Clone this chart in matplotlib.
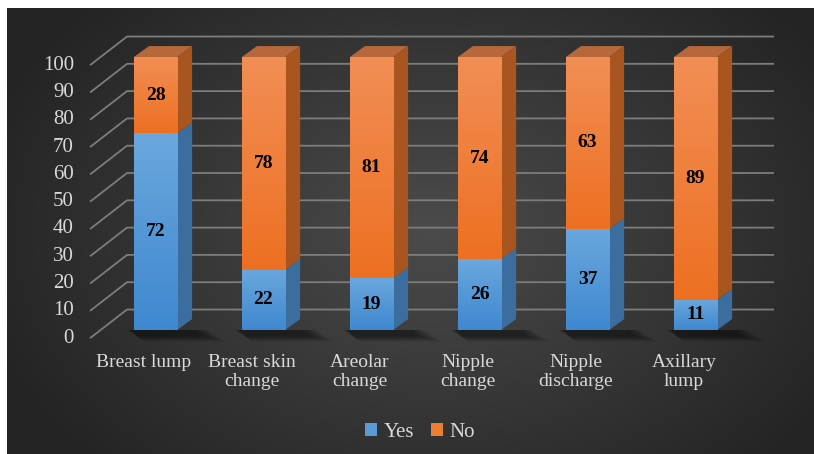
# -*- coding: utf-8 -*-
import numpy as np
import matplotlib
matplotlib.use("Agg")
from matplotlib import pyplot as plt
from matplotlib.patches import Polygon, Patch

categories = ["Breast lump", "Breast skin\nchange", "Areolar\nchange",
              "Nipple\nchange", "Nipple\ndischarge", "Axillary\nlump"]
yes_vals = [72, 22, 19, 26, 37, 11]
no_vals = [28, 78, 81, 74, 63, 89]
y_ticks = [0, 10, 20, 30, 40, 50, 60, 70, 80, 90, 100]

plt.rcParams['font.family'] = ['Liberation Serif', 'DejaVu Serif']

W, H = 814, 454
fig = plt.figure(figsize=(W / 100, H / 100), dpi=100)
fig.patch.set_facecolor("white")

# background panel with radial gradient
bg = fig.add_axes([0, 0, 1, 1])
bg.set_xlim(0, W)
bg.set_ylim(H, 0)
bg.axis("off")
gx, gy = np.meshgrid(np.arange(7, W), np.arange(8, H))
r = np.sqrt(((gx - 430) / 480.0) ** 2 + ((gy - 230) / 340.0) ** 2)
r = np.clip(r, 0, 1)
c0 = np.array([0x4b, 0x4b, 0x4b]) / 255.0
c1 = np.array([0x23, 0x23, 0x23]) / 255.0
img = c0[None, None, :] * (1 - r[..., None]) + c1[None, None, :] * r[..., None]
bg.imshow(img, extent=(7, W, H, 8), aspect="auto", interpolation="bilinear")

# main axes: x in category units, y in percent
ax = fig.add_axes([0, 0, 1, 1])
ax.patch.set_alpha(0)
ax.set_xlim(-155.5 / 108, (W - 155.5) / 108)
ax.set_ylim((330 - H) / 2.73, 330 / 2.73)
ax.axis("off")

BW = 0.4      # bar width
DX = 0.139    # depth offset x
DY = 4.0      # depth offset y
grid_c = "#7d7d7d"
txt_c = "#d9d9d9"

# gridlines (front diagonal + back wall)
for v in y_ticks:
    ax.plot([-0.606, -0.264, 5.727], [v - 3, v + 7.5, v + 7.5],
            color=grid_c, lw=1.3, zorder=1, solid_capstyle="butt")
    ax.text(-0.755, v - 3, str(v), ha="right", va="center",
            color=txt_c, fontsize=15)

x = np.arange(len(categories))

# soft shadows on floor
for xi in x:
    for k in range(7):
        s = 1 + k * 0.4
        sh = Polygon([(xi - BW / 2 - 0.02 * s, 0),
                      (xi + BW / 2 + DX + 0.04 * s, 0),
                      (xi + BW / 2 + DX + 0.09 * s, -1.5 - 0.8 * s),
                      (xi - BW / 2 + 0.03 * s, -1.5 - 0.8 * s)],
                     closed=True, facecolor="black", edgecolor="none",
                     alpha=0.08, zorder=2)
        ax.add_patch(sh)


def grad_fill(bar, top_c, bot_c):
    x0, y0 = bar.get_x(), bar.get_y()
    w, h = bar.get_width(), bar.get_height()
    t = np.linspace(0, 1, 64)[:, None]
    a = np.array(matplotlib.colors.to_rgb(top_c))
    b = np.array(matplotlib.colors.to_rgb(bot_c))
    g = a[None, :] * (1 - t) + b[None, :] * t
    g = g[:, None, :]
    im = ax.imshow(g, extent=(x0, x0 + w, y0, y0 + h), origin="upper",
                   aspect="auto", zorder=3.5, interpolation="bilinear")
    im.set_clip_path(bar)


yes_bars = ax.bar(x, yes_vals, width=BW, color="#5b9bd5", zorder=3)
no_bars = ax.bar(x, no_vals, width=BW, bottom=yes_vals, color="#ed7d31",
                 zorder=3)
for b in yes_bars:
    grad_fill(b, "#6aa7dd", "#3f88d0")
for b in no_bars:
    grad_fill(b, "#f28e55", "#ed7022")

for xi, yv, nv in zip(x, yes_vals, no_vals):
    xr = xi + BW / 2
    # blue side
    ax.add_patch(Polygon([(xr, 0), (xr + DX, DY), (xr + DX, yv + DY), (xr, yv)],
                         closed=True, facecolor="#3b6d9f", edgecolor="none",
                         zorder=3))
    # orange side
    top = yv + nv
    ax.add_patch(Polygon([(xr, yv), (xr + DX, yv + DY), (xr + DX, top + DY),
                          (xr, top)], closed=True, facecolor="#a9551f",
                         edgecolor="none", zorder=3))
    # top face
    xl = xi - BW / 2
    ax.add_patch(Polygon([(xl, top), (xr, top), (xr + DX, top + DY),
                          (xl + DX, top + DY)], closed=True,
                         facecolor="#b7673a", edgecolor="none", zorder=3))
    ax.text(xi, yv / 2, str(yv), ha="center", va="center", fontsize=14,
            fontweight="bold", color="black", zorder=5)
    ax.text(xi, yv + nv / 2, str(nv), ha="center", va="center", fontsize=14,
            fontweight="bold", color="black", zorder=5)

for xi, lab in zip(x, categories):
    ax.text(xi - 0.106, -8.8, lab, ha="center", va="top", color=txt_c,
            fontsize=14, linespacing=1.15)

handles = [Patch(facecolor="#5b9bd5", label="Yes"),
           Patch(facecolor="#ed7d31", label="No")]
leg = fig.legend(handles=handles, loc="center", ncol=2, frameon=False,
                 bbox_to_anchor=(0.516, 0.047), fontsize=15,
                 handlelength=0.6, handleheight=0.6, handletextpad=0.3,
                 columnspacing=0.8, labelcolor=txt_c)

fig.savefig("out.png", dpi=100, facecolor="white")
